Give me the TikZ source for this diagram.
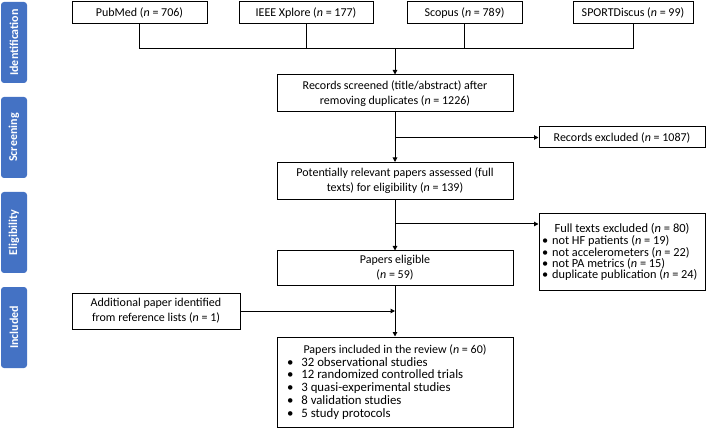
\documentclass[tikz,border=0pt]{standalone}
\usepackage{fontspec}
\setmainfont{Carlito}
\usetikzlibrary{arrows.meta}
\definecolor{phase}{HTML}{4472C4}
\newcommand{\nn}{\textit{n}}
\newcommand{\bul}{\textbullet\hspace{4pt}}
\lineskiplimit=-6pt

\begin{document}
\begin{tikzpicture}[x=1pt,y=-1pt]
\useasboundingbox (0,0) rectangle (709,430);

\begin{scope}[every node/.style={rotate=90,fill=phase,rounded corners=3pt,text=white,
  font=\bfseries\fontsize{12}{14}\selectfont,minimum width=81,minimum height=26,inner sep=0}]
    \node (s1) at (14,42.5) {Identification};
    \node (s2) at (14,137.5) {Screening};
    \node (s3) at (14,232.5) {Eligibility};
    \node (s4) at (14,327.5) {Included};
\end{scope}

\begin{scope}[every node/.style={draw,line width=1pt,inner sep=0,align=center,
  font=\fontsize{12}{15}\selectfont}]
    \node [minimum width=135, minimum height=22] (a) at (139.5,13) {PubMed (\nn{} = 706)};
    \node [minimum width=134, minimum height=22] (b) at (306,13) {IEEE Xplore (\nn{} = 177)};
    \node [minimum width=115, minimum height=22] (c) at (464.5,13) {Scopus (\nn{} = 789)};
    \node [minimum width=120, minimum height=22] (d) at (633,13) {SPORTDiscus (\nn{} = 99)};

    \node [minimum width=236, minimum height=37] (r) at (395,93.5) {Records screened (title/abstract) after\\removing duplicates (\nn{} = 1226)};
    \node [minimum width=166, minimum height=21] (x) at (622,137.5) {Records excluded (\nn{} = 1087)};
    \node [minimum width=236, minimum height=37] (p) at (395,181) {Potentially relevant papers assessed (full\\texts) for eligibility (\nn{} = 139)};
    \node [minimum width=166, minimum height=76, inner xsep=3, text width=160, align=flush left,
      font=\fontsize{12.3}{10.9}\selectfont] (f) at (622,252) {\makebox[160pt]{\fontsize{12.5}{13}\selectfont Full texts excluded (\nn{} = 80)}\\[1.5pt]
      \bul not HF patients (\nn{} = 19)\\
      \bul not accelerometers (\nn{} = 22)\\
      \bul not PA metrics (\nn{} = 15)\\
      \bul duplicate publication (\nn{} = 24)};
    \node [minimum width=236, minimum height=34] (e) at (395,268) {Papers eligible\\(\nn{} = 59)};
    \node [minimum width=168, minimum height=36] (g) at (156,311) {Additional paper identified\\from reference lists (\nn{} = 1)};
    \node [minimum width=236, minimum height=90, inner xsep=10, text width=216, align=flush left,
      font=\fontsize{12.8}{12.8}\selectfont] (i) at (395,382) {\makebox[216pt]{\fontsize{12}{12.8}\selectfont Papers included in the review (\nn{} = 60)}\\
      \bul\hspace{4pt}32 observational studies\\
      \bul\hspace{4pt}12 randomized controlled trials\\
      \bul\hspace{4pt}3 quasi-experimental studies\\
      \bul\hspace{4pt}8 validation studies\\
      \bul\hspace{4pt}5 study protocols};
\end{scope}

\begin{scope}[line width=1pt, >={Triangle[length=4.5pt,width=4.5pt]}]
    \coordinate (jl) at (139.5,49);
    \coordinate (jr) at (633,49);
    \coordinate (k1) at (395,137.5);
    \coordinate (k2) at (395,224);

    \draw (a.south) -- (jl) -- (jr) -- (d.south);
    \draw (b.south) -- (b.south |- jl);
    \draw (c.south) -- (c.south |- jl);
    \draw [->] (r.north |- jl) -- (r.north);
    \draw [->] (r) -- (p);
    \draw [->] (k1) -- (x.west);
    \draw [->] (p) -- (e);
    \draw [->] (k2) -- (k2 -| f.west);
    \draw [->] (e) -- (i);
    \draw [->] (g.east) -- (g.east -| i.north);
\end{scope}

\end{tikzpicture}
\end{document}
